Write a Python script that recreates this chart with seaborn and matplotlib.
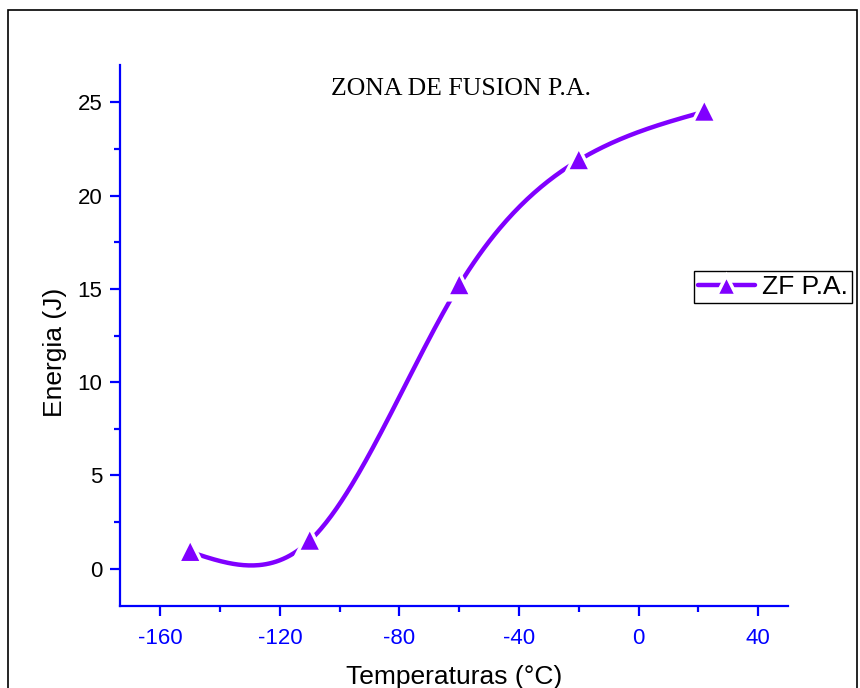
import matplotlib
matplotlib.use("Agg")
import matplotlib.pyplot as plt
import numpy as np
import pandas as pd
import seaborn as sns
from matplotlib.lines import Line2D
from matplotlib.patches import Rectangle
from matplotlib.ticker import MultipleLocator

TEMPS = [-150, -110, -60, -20, 22]
ENERGY = [0.9, 1.5, 15.2, 21.9, 24.5]
SERIES = "ZF P.A."
TITLE = "ZONA DE FUSION P.A."
XLABEL = "Temperaturas (°C)"
YLABEL = "Energia (J)"

PURPLE = "#8000ff"
BLUE = "#0000ff"


def natural_spline(x, y, n=300):
    # natural cubic spline through the points (Origin-like "spline" connector)
    x = np.asarray(x, float)
    y = np.asarray(y, float)
    k = len(x)
    h = np.diff(x)
    A = np.zeros((k, k))
    b = np.zeros(k)
    A[0, 0] = A[-1, -1] = 1
    for i in range(1, k - 1):
        A[i, i - 1] = h[i - 1]
        A[i, i] = 2 * (h[i - 1] + h[i])
        A[i, i + 1] = h[i]
        b[i] = 6 * ((y[i + 1] - y[i]) / h[i] - (y[i] - y[i - 1]) / h[i - 1])
    m = np.linalg.solve(A, b)
    xs = np.linspace(x[0], x[-1], n)
    idx = np.clip(np.searchsorted(x, xs) - 1, 0, k - 2)
    x0, x1 = x[idx], x[idx + 1]
    hh = x1 - x0
    t0, t1 = x1 - xs, xs - x0
    ys = (m[idx] * t0 ** 3 / (6 * hh) + m[idx + 1] * t1 ** 3 / (6 * hh)
          + (y[idx] / hh - m[idx] * hh / 6) * t0
          + (y[idx + 1] / hh - m[idx + 1] * hh / 6) * t1)
    return xs, ys


sns.set_style("white")
plt.rcParams["font.family"] = ["Liberation Sans", "DejaVu Sans"]
plt.rcParams["axes.unicode_minus"] = False
plt.rcParams["text.color"] = "black"
plt.rcParams["axes.labelcolor"] = "black"

fig = plt.figure(figsize=(8.6, 6.88), dpi=100)
ax = fig.add_axes([0.1395, 0.1192, 0.7768, 0.7863])

xs, ys = natural_spline(TEMPS, ENERGY)
curve = pd.DataFrame({"t": xs, "e": ys})
pts = pd.DataFrame({"t": TEMPS, "e": ENERGY})

sns.lineplot(data=curve, x="t", y="e", ax=ax, color=PURPLE, lw=3.2,
             sort=False, zorder=2)
# white halo behind markers gives the gap around each point
sns.scatterplot(data=pts, x="t", y="e", ax=ax, marker="^", s=560,
                color="white", edgecolor="none", zorder=3)
sns.scatterplot(data=pts, x="t", y="e", ax=ax, marker="^", s=170,
                color=PURPLE, edgecolor="none", zorder=4)

ax.set_xlim(-173.5, 50)
ax.set_ylim(-2, 27)
ax.xaxis.set_major_locator(MultipleLocator(40))
ax.xaxis.set_minor_locator(MultipleLocator(20))
ax.yaxis.set_major_locator(MultipleLocator(5))
ax.yaxis.set_minor_locator(MultipleLocator(2.5))

for side in ["top", "right"]:
    ax.spines[side].set_visible(False)
for side in ["left", "bottom"]:
    ax.spines[side].set_color(BLUE)
    ax.spines[side].set_linewidth(1.6)

ax.tick_params(axis="both", which="major", direction="out", length=7.5,
               width=1.6, color=BLUE, labelsize=16, left=True, bottom=True)
ax.tick_params(axis="both", which="minor", direction="out", length=4,
               width=1.6, color=BLUE, left=True, bottom=True)
ax.tick_params(axis="x", labelcolor=BLUE, pad=8)
ax.tick_params(axis="y", labelcolor="black", pad=5)

ax.set_xlabel(XLABEL, fontsize=19, labelpad=12)
ax.set_ylabel(YLABEL, fontsize=19)
ax.yaxis.set_label_coords(-0.079, 0.469)
ax.text(0.51, 0.955, TITLE, transform=ax.transAxes, ha="center", va="center",
        fontsize=18.5, family="Liberation Serif")

handle = Line2D([], [], color=PURPLE, lw=3.2, marker="^", markersize=14,
                markeredgecolor="white", markeredgewidth=2.5)
leg = ax.legend([handle], [SERIES], loc="center left",
                bbox_to_anchor=(0.859, 0.59), fontsize=19, frameon=True,
                fancybox=False, framealpha=1, borderpad=0.15,
                handlelength=2.15, handletextpad=0.3, borderaxespad=0)
leg.get_frame().set_edgecolor("black")
leg.get_frame().set_linewidth(1)

fig.patches.append(Rectangle((0.0093, -0.02), 0.987, 1.006,
                             transform=fig.transFigure, fill=False,
                             edgecolor="black", lw=1.2))

fig.savefig("out.png", dpi=100)
